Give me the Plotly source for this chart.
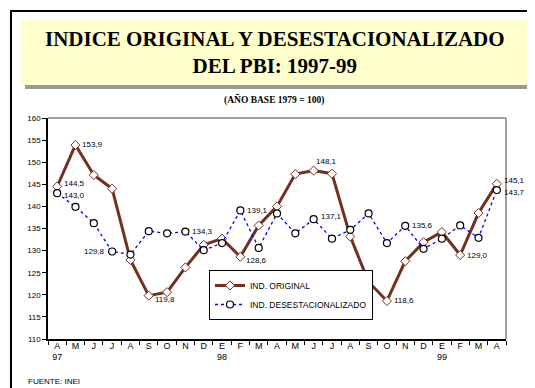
import plotly.graph_objects as go

months = ["A<br>97", "M", "J", "J", "A", "S", "O", "N", "D", "E<br>98", "F", "M",
          "A", "M", "J", "J", "A", "S", "O", "N", "D", "E<br>99", "F", "M", "A"]
ind_original = [144.5, 153.9, 147.1, 144.0, 127.9, 119.8, 120.6, 126.2, 131.3, 132.7,
                128.6, 135.7, 140.0, 147.3, 148.1, 147.4, 133.2, 122.9, 118.6, 127.6,
                131.9, 134.2, 129.0, 138.5, 145.1]
ind_desest = [143.0, 139.9, 136.2, 129.8, 129.1, 134.4, 133.9, 134.3, 130.1, 131.7,
              139.1, 130.6, 138.4, 133.9, 137.1, 132.7, 134.7, 138.4, 131.7, 135.6,
              130.4, 132.7, 135.7, 132.9, 143.7]
y_ticks = [110, 115, 120, 125, 130, 135, 140, 145, 150, 155, 160]

# labelled points: (index, placement)
orig_labels = [(0, "ru"), (1, "r"), (5, "br"), (10, "br"), (14, "t"), (18, "r"), (22, "r"), (24, "ru")]
desest_labels = [(0, "rd"), (3, "l"), (7, "r"), (10, "r"), (14, "ru"), (19, "r"), (24, "rd")]

x = list(range(len(months)))
BROWN = "#74301E"
fig = go.Figure()
fig.add_trace(go.Scatter(
    x=x, y=ind_original, mode="lines+markers", name="IND. ORIGINAL",
    line=dict(color=BROWN, width=3),
    marker=dict(symbol="diamond", size=7, color="white", line=dict(color=BROWN, width=1)),
))
fig.add_trace(go.Scatter(
    x=x, y=ind_desest, mode="lines+markers", name="IND. DESESTACIONALIZADO",
    line=dict(color="#0000FF", width=1.3, dash="dot"),
    marker=dict(symbol="circle", size=7, color="white", line=dict(color="black", width=1.2)),
))

def fmt(v):
    return f"{v:.1f}".replace(".", ",")

annotations = []
def add_labels(series, labels):
    for i, pos in labels:
        a = dict(x=i, y=series[i], xref="x", yref="y", text=fmt(series[i]), showarrow=False,
                 font=dict(family="Liberation Sans, Arial", size=8, color="black"))
        if pos == "r":
            a.update(xanchor="left", yanchor="middle", xshift=5)
        elif pos == "ru":
            a.update(xanchor="left", yanchor="middle", xshift=5, yshift=3)
        elif pos == "rd":
            a.update(xanchor="left", yanchor="middle", xshift=5, yshift=-2)
        elif pos == "l":
            a.update(xanchor="right", yanchor="middle", xshift=-5)
        elif pos == "br":
            a.update(xanchor="left", yanchor="middle", xshift=4, yshift=-4)
        elif pos == "t":
            a.update(xanchor="left", yanchor="bottom", xshift=0, yshift=3)
        annotations.append(a)

add_labels(ind_original, orig_labels)
add_labels(ind_desest, desest_labels)

def px_x(px):
    return (px - 40) / 458

def px_y(py):
    return (331 - py) / 221

annotations.append(dict(
    xref="paper", yref="paper", x=px_x(267), y=px_y(45),
    text="<b>INDICE ORIGINAL Y DESESTACIONALIZADO<br>DEL PBI: 1997-99</b>",
    showarrow=False, xanchor="center", yanchor="middle",
    font=dict(family="Liberation Serif", size=21, color="black"),
    align="center"))
annotations.append(dict(
    xref="paper", yref="paper", x=px_x(266), y=px_y(92),
    text="<b>(AÑO BASE 1979 = 100)</b>", showarrow=False, xanchor="center", yanchor="middle",
    font=dict(family="Liberation Serif", size=9.5, color="black")))
annotations.append(dict(
    xref="paper", yref="paper", x=px_x(18), y=px_y(373),
    text="FUENTE: INEI", showarrow=False, xanchor="left", yanchor="middle",
    font=dict(family="Liberation Sans, Arial", size=8, color="black")))

shapes = [
    # outer frame
    dict(type="rect", xref="paper", yref="paper", x0=px_x(3), x1=px_x(531), y0=px_y(383), y1=px_y(3),
         line=dict(color="black", width=2), fillcolor="rgba(0,0,0,0)", layer="below"),
    # title shadow
    dict(type="rect", xref="paper", yref="paper", x0=px_x(17), x1=px_x(524), y0=px_y(81), y1=px_y(16),
         line=dict(width=0), fillcolor="#999999", layer="below"),
    # title box
    dict(type="rect", xref="paper", yref="paper", x0=px_x(13), x1=px_x(520), y0=px_y(77), y1=px_y(12),
         line=dict(width=0), fillcolor="#FFFFCC", layer="below"),
    # plot top and right border (gray)
    dict(type="line", xref="paper", yref="paper", x0=0, x1=1, y0=1, y1=1,
         line=dict(color="#808080", width=1.5)),
    dict(type="line", xref="paper", yref="paper", x0=1, x1=1, y0=0, y1=1,
         line=dict(color="#808080", width=1.5)),
]

fig.update_layout(
    width=535, height=388,
    margin=dict(l=40, r=37, t=110, b=57),
    paper_bgcolor="white", plot_bgcolor="white",
    showlegend=True,
    legend=dict(x=px_x(201), y=px_y(262), xanchor="left", yanchor="top",
                bgcolor="white", bordercolor="black", borderwidth=1,
                font=dict(family="Liberation Sans, Arial", size=8.5, color="black"),
                tracegroupgap=0, itemwidth=30),
    annotations=annotations,
    shapes=shapes,
    xaxis=dict(
        range=[-0.5, len(months) - 0.5], tickmode="array", tickvals=x, ticktext=months,
        ticks="", showgrid=False, zeroline=False, ticklabelstandoff=-3,
        showline=True, linecolor="black", linewidth=1.5,
        tickfont=dict(family="Liberation Sans, Arial", size=9, color="black"),
        minor=dict(tickmode="array", tickvals=[i - 0.5 for i in range(len(months) + 1)],
                   ticks="outside", ticklen=4, tickcolor="black", showgrid=False),
    ),
    yaxis=dict(
        range=[110, 160], tickmode="array", tickvals=y_ticks,
        ticktext=[str(v) for v in y_ticks],
        ticks="outside", ticklen=4, tickcolor="black", showgrid=False, zeroline=False,
        showline=True, linecolor="black", linewidth=1.5,
        tickfont=dict(family="Liberation Sans, Arial", size=8, color="black"),
    ),
)

fig.write_html("out.html")
